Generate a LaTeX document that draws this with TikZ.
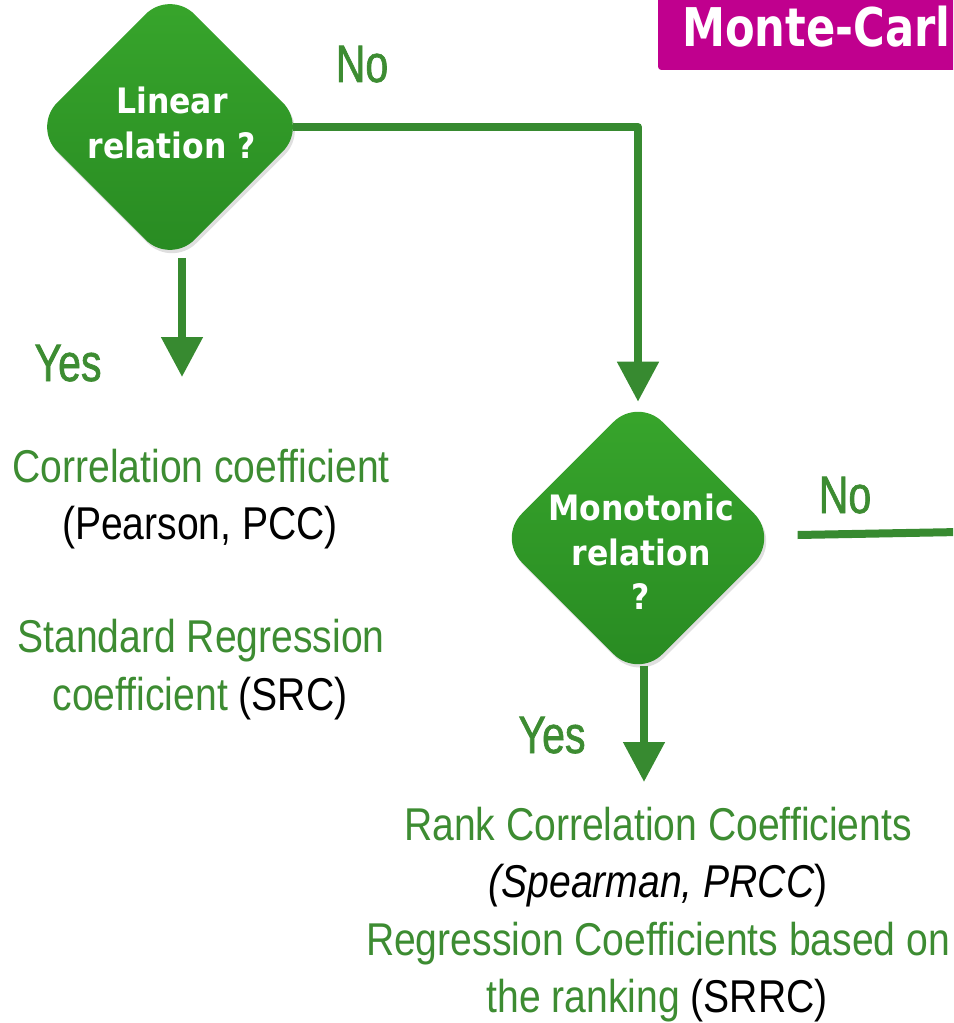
\documentclass[tikz,border=0pt]{standalone}
\usepackage{fontspec}
\setmainfont{Liberation Sans}
\usetikzlibrary{arrows.meta,shapes.geometric,shadows}
\newfontfamily\narrowfont[FakeStretch=0.85]{Liberation Sans}
\newfontfamily\labelfont[FakeStretch=0.78,FakeBold=1.2]{Liberation Sans}
\newfontfamily\diafont[FakeStretch=0.9]{DejaVu Sans}
\newfontfamily\titlefont[FakeStretch=0.81]{DejaVu Sans}
\definecolor{tgreen}{RGB}{61,140,50}
\definecolor{agreen}{RGB}{55,138,48}
\definecolor{dlight}{RGB}{56,166,44}
\definecolor{ddark}{RGB}{40,138,34}
\definecolor{mag}{RGB}{192,0,142}
\tikzset{
  dia/.style={diamond, inner sep=0pt, draw=none, rounded corners=26pt,
    top color=dlight, bottom color=ddark,
    drop shadow={opacity=0.25, shadow xshift=1.5pt, shadow yshift=-2.5pt}},
  diatext/.style={text=white, align=center, inner sep=0pt,
    font=\diafont\bfseries\fontsize{26.25}{33.5}\selectfont},
  arr/.style={draw=agreen, line width=6pt, line join=round,
    -{Triangle[width=30pt,length=30pt]}},
  plainline/.style={draw=agreen, line width=6pt},
  body/.style={inner sep=0pt, anchor=base, text=tgreen,
    font=\narrowfont\fontsize{34.5}{42}\selectfont},
  lab/.style={inner sep=0pt, anchor=base, text=tgreen,
    font=\labelfont\fontsize{39.5}{45}\selectfont}
}
\begin{document}
\begin{tikzpicture}[x=0.75pt,y=-0.75pt]
\useasboundingbox (0,0) rectangle (953,1023);
\begin{scope}
\clip (0,0) rectangle (953,1023);
% title box
\fill[mag, rounded corners=2.5pt] (658,-20) rectangle (1000,70);
\node[inner sep=0pt, anchor=base west, text=white,
  font=\titlefont\bfseries\fontsize{40}{46}\selectfont] (title) at (682,47) {Monte-Carl};

% diamonds
\node[dia, minimum width=206pt, minimum height=206pt] (d1) at (170,127) {};
\node[diatext] (d1t) at (172,123) {Linear\\relation ?};
\node[dia, minimum width=211pt, minimum height=211pt] (d2) at (638,538) {};
\node[diatext] (d2t) at (641,552) {Monotonic\\relation\\?};

% connectors
\coordinate (y1tip) at (182,377);
\coordinate (y2tip) at (644,782);
\coordinate (noend) at (960,532);
\draw[arr] ([xshift=-11pt]d1.east) -| ([yshift=-3.5pt]d2.north);
\draw[arr] ([xshift=9pt,yshift=5pt]d1.south) -- (y1tip);
\draw[arr] ([xshift=4.5pt,yshift=10pt]d2.south) -- (y2tip);
\draw[plainline] ([xshift=14pt,yshift=2.25pt]d2.east) -- (noend);

% labels
\node[lab] (no1) at (362,82) {No};
\node[lab] (yes1) at (68,381) {Yes};
\node[lab] (no2) at (845,513) {No};
\node[lab] (yes2) at (552,753) {Yes};

% left texts
\node[body] (t1a) at (201,482) {Correlation coefficient};
\node[body, text=black] (t1b) at (200,539) {(Pearson, PCC)};
\node[body] (t2a) at (201,652) {Standard Regression};
\node[body] (t2b) at (200,710) {coefficient \textcolor{black}{(SRC)}};

% right texts
\node[body] (t3a) at (658,840) {Rank Correlation Coefficients};
\node[body, text=black] (t3b) at (658,897) {\textit{(Spearman, PRCC})};
\node[body] (t3c) at (658,955) {Regression Coefficients based on};
\node[body] (t3d) at (657,1012) {the ranking \textcolor{black}{(SRRC)}};
\end{scope}
\end{tikzpicture}
\end{document}
